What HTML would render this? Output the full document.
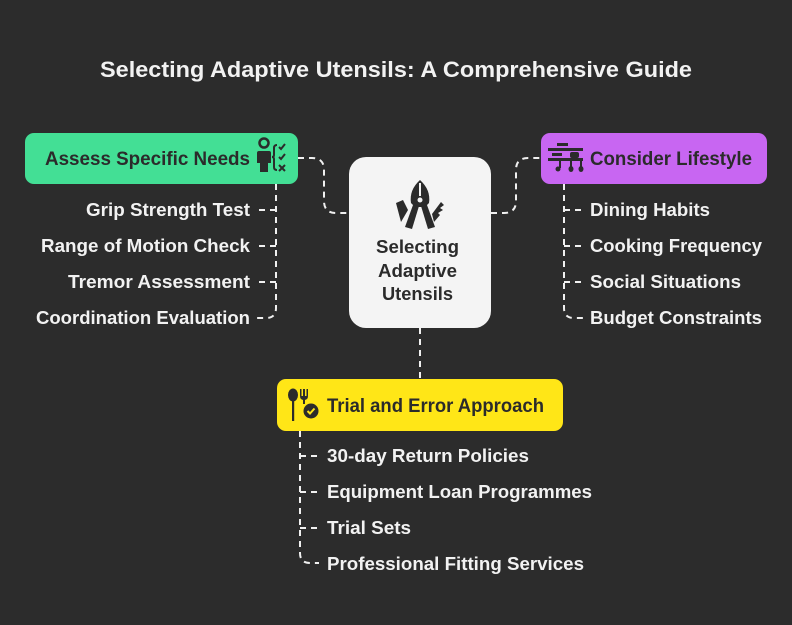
<!DOCTYPE html>
<html><head><meta charset="utf-8"><style>
html,body{margin:0;padding:0;background:#2c2c2c;}
svg{display:block;}
.t{font-family:"Liberation Sans",Arial,sans-serif;}
</style></head><body>
<svg width="792" height="625" viewBox="0 0 792 625" xmlns="http://www.w3.org/2000/svg">
<rect width="792" height="625" fill="#2c2c2c"/>
<text class="t" x="100" y="77" font-size="22" font-weight="bold" fill="#f2f2f2" textLength="592" lengthAdjust="spacingAndGlyphs">Selecting Adaptive Utensils: A Comprehensive Guide</text>

<g fill="none" stroke="#f0f0f0" stroke-width="2" stroke-dasharray="6 5">
  <path d="M298 158 H312 Q324 158 324 170 V201 Q324 213 336 213 H349"/>
  <path d="M491 213 H504 Q516 213 516 201 V170 Q516 158 528 158 H541"/>
  <path d="M420 328 V379"/>
  <path d="M276 184 V308 Q276 318 266 318 H256"/>
  <path d="M276 210 H257"/><path d="M276 246 H257"/><path d="M276 282 H257"/>
  <path d="M564 184 V308 Q564 318 574 318 H584"/>
  <path d="M564 210 H583"/><path d="M564 246 H583"/><path d="M564 282 H583"/>
  <path d="M300 431 V553 Q300 563 310 563 H319"/>
  <path d="M300 456 H319"/><path d="M300 492 H319"/><path d="M300 528 H319"/>
</g>

<!-- green box -->
<rect x="25" y="133" width="273" height="51" rx="9" fill="#43df95"/>
<text class="t" x="45" y="165" font-size="19" fill="#2b2b2b" font-weight="bold" textLength="205" lengthAdjust="spacingAndGlyphs">Assess Specific Needs</text>
<g fill="#2b2b2b" stroke="none">
  <circle cx="264" cy="143" r="4.5" fill="none" stroke="#2b2b2b" stroke-width="2.5"/>
  <path d="M259 151 H269 Q271 151 271 153 V163 H268 V172 H260 V163 H257 V153 Q257 151 259 151Z"/>
</g>
<g fill="none" stroke="#2b2b2b" stroke-width="2">
  <path d="M277 145 Q274 145 274 148 V155 Q274 157 272 157 Q274 157 274 159 V167 Q274 170 277 170"/>
  <path d="M279 147 L281 149 L285 144"/>
  <path d="M279 157 L281 159 L285 154"/>
  <path d="M279 165 L285 171 M285 165 L279 171"/>
</g>

<!-- center box -->
<rect x="349" y="157" width="142" height="171" rx="17" fill="#f4f4f4"/>
<g fill="#2b2b2b">
  <path d="M420 180 Q431 190 429 203 L425 207 L415 207 L411 203 Q409 190 420 180Z"/>
  <path d="M413 205 L419 206 L412 229 L405 227Z"/>
  <path d="M427 205 L421 206 L428 229 L435 227Z"/>
  <path d="M396 203 L403 200 L408 210 L401 222Z"/>
  <path d="M441 202 L444 205 L440 208 L443 210 L438 213 L440 215 L434 222 L432 214 Z"/>
</g>
<circle cx="420" cy="200" r="2.5" fill="#f4f4f4"/>
<rect x="419" y="183" width="2" height="13" fill="#f4f4f4"/>
<g class="t" font-size="18" fill="#2b2b2b" font-weight="bold">
  <text x="376" y="253" textLength="83" lengthAdjust="spacingAndGlyphs">Selecting</text>
  <text x="378" y="277" textLength="79" lengthAdjust="spacingAndGlyphs">Adaptive</text>
  <text x="382" y="300" textLength="71" lengthAdjust="spacingAndGlyphs">Utensils</text>
</g>

<!-- purple box -->
<rect x="541" y="133" width="226" height="51" rx="9" fill="#c866f2"/>
<text class="t" x="590" y="165" font-size="19" fill="#2b2b2b" font-weight="bold" textLength="162" lengthAdjust="spacingAndGlyphs">Consider Lifestyle</text>
<g fill="#2b2b2b">
  <rect x="557" y="143" width="11" height="3"/>
  <rect x="548" y="148" width="35" height="3"/>
  <rect x="552" y="153" width="10" height="3"/>
  <rect x="570" y="152" width="9" height="6" rx="2"/>
  <rect x="548" y="158" width="35" height="3"/>
  <rect x="559" y="161" width="2" height="7"/><circle cx="558" cy="169" r="2.5"/>
  <rect x="570" y="161" width="2" height="7"/><ellipse cx="571" cy="169" rx="2.5" ry="3"/>
  <rect x="580" y="161" width="2" height="7"/><ellipse cx="581" cy="169" rx="2.5" ry="3"/>
</g>

<!-- yellow box -->
<rect x="277" y="379" width="286" height="52" rx="9" fill="#ffe617"/>
<text class="t" x="327" y="412" font-size="19" fill="#2b2b2b" font-weight="bold" textLength="217" lengthAdjust="spacingAndGlyphs">Trial and Error Approach</text>
<g fill="#2b2b2b">
  <ellipse cx="293" cy="395" rx="5" ry="6.5"/>
  <rect x="292" y="399" width="2.2" height="22"/>
  <path d="M300 389 V396 Q300 400 304 400 Q308 400 308 396 V389 H306.5 V396 H305 V389 H303 V396 H301.5 V389Z"/>
  <rect x="303" y="399" width="2" height="5"/>
  <circle cx="311" cy="411" r="7.5"/>
</g>
<path d="M307.5 411 L310 413.5 L314.5 408.5" fill="none" stroke="#ffe617" stroke-width="2"/>

<!-- items -->
<g class="t" font-size="18" font-weight="bold" fill="#f2f2f2">
  <text x="86" y="216" textLength="164" lengthAdjust="spacingAndGlyphs">Grip Strength Test</text>
  <text x="41" y="252" textLength="209" lengthAdjust="spacingAndGlyphs">Range of Motion Check</text>
  <text x="68" y="288" textLength="182" lengthAdjust="spacingAndGlyphs">Tremor Assessment</text>
  <text x="36" y="324" textLength="214" lengthAdjust="spacingAndGlyphs">Coordination Evaluation</text>

  <text x="590" y="216" textLength="120" lengthAdjust="spacingAndGlyphs">Dining Habits</text>
  <text x="590" y="252" textLength="172" lengthAdjust="spacingAndGlyphs">Cooking Frequency</text>
  <text x="590" y="288" textLength="151" lengthAdjust="spacingAndGlyphs">Social Situations</text>
  <text x="590" y="324" textLength="172" lengthAdjust="spacingAndGlyphs">Budget Constraints</text>

  <text x="327" y="462" textLength="202" lengthAdjust="spacingAndGlyphs">30-day Return Policies</text>
  <text x="327" y="498" textLength="265" lengthAdjust="spacingAndGlyphs">Equipment Loan Programmes</text>
  <text x="327" y="534" textLength="84" lengthAdjust="spacingAndGlyphs">Trial Sets</text>
  <text x="327" y="570" textLength="257" lengthAdjust="spacingAndGlyphs">Professional Fitting Services</text>
</g>
</svg>
</body></html>
